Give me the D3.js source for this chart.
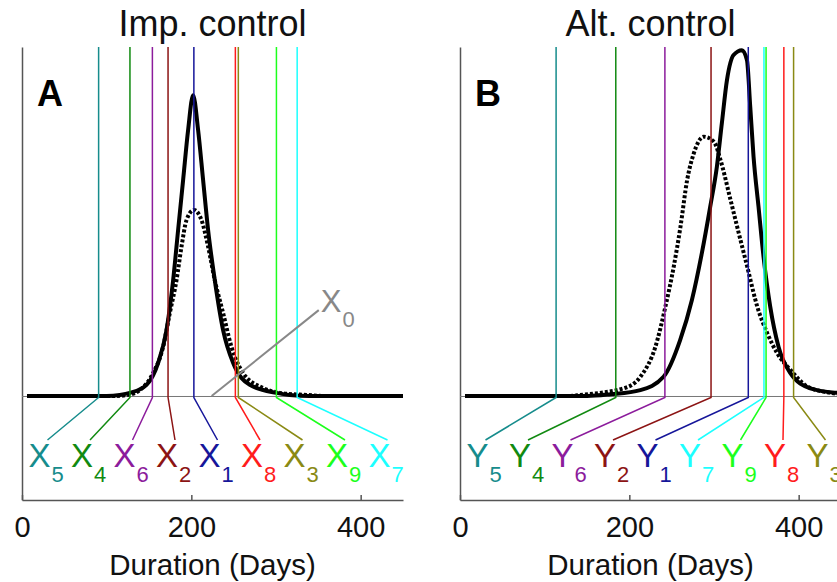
<!DOCTYPE html>
<html>
<head>
<meta charset="utf-8">
<script src="https://cdn.jsdelivr.net/npm/d3@7"></script>
<style>
body { margin: 0; background: #fff; }
svg { font-family: Arial, "Liberation Sans", sans-serif; }
</style>
</head>
<body>
<div id="chart"></div>
<script>
// marker days, left to right, and their subscripts
const impNames = ["5", "4", "6", "2", "1", "8", "3", "9", "7"];
const impDays = [90.5, 127.5, 154, 172.5, 203, 252, 255.5, 300.5, 325];
const altNames = ["5", "4", "6", "2", "1", "7", "9", "8", "3"];
const altDays = [113.5, 184, 242, 296.5, 340.5, 359, 361.5, 382.5, 394];

// X0 pointer (start day, end day, end height)
const impZero = [224, 350.5, 0.246];

// duration densities, [day, height]
const impSolid = [[6, 0], [100, 0], [115.6, 0.003], [127.4, 0.009], [147.1, 0.032], [160.8, 0.095],
  [170.7, 0.189], [178.5, 0.332], [184.4, 0.476], [190.3, 0.619], [196.2, 0.762], [202.1, 0.862],
  [208, 0.762], [213.9, 0.619], [219.8, 0.476], [227.7, 0.332], [237.5, 0.189], [249.3, 0.095],
  [269, 0.032], [300.5, 0.009], [316, 0.003], [340, 0], [450, 0]];
const impDotted = [[6, 0], [110, 0], [127.4, 0.004], [139.2, 0.017], [154.9, 0.066], [166.7, 0.141],
  [174.6, 0.238], [182.5, 0.332], [188.4, 0.428], [194.3, 0.504], [203, 0.533], [212, 0.504],
  [219.8, 0.428], [227.7, 0.332], [237.5, 0.238], [247.4, 0.141], [261.1, 0.066], [284.7, 0.023],
  [304.4, 0.009], [336, 0.003], [360, 0], [450, 0]];
const altSolid = [[6, 0], [150, 0], [177.5, 0.005], [213, 0.017], [240.4, 0.055], [260, 0.16],
  [273.9, 0.275], [285.7, 0.41], [295.5, 0.542], [303.4, 0.657], [309.3, 0.782], [315.3, 0.905],
  [323.1, 0.977], [333, 0.991], [338.9, 0.963], [342.8, 0.829], [346.7, 0.686], [352.6, 0.542],
  [358.5, 0.399], [366.4, 0.256], [376.2, 0.141], [390, 0.066], [413.7, 0.022], [445.2, 0.009], [450, 0.008]];
const altDotted = [[6, 0], [130, 0], [141.8, 0.003], [193.3, 0.022], [213, 0.055], [230.8, 0.141],
  [242.6, 0.256], [252.4, 0.37], [260.4, 0.485], [268.3, 0.619], [276.1, 0.695], [287.9, 0.743],
  [299.8, 0.729], [307.7, 0.676], [319.5, 0.562], [329.3, 0.466], [339.3, 0.37], [351.1, 0.256],
  [362.9, 0.18], [374.8, 0.122], [390.5, 0.074], [410.3, 0.027], [437.9, 0.009], [450, 0.005]];

const tickDays = [0, 200, 400];

const colorOf = {
  "1": "#16169a", "2": "#8c1414", "3": "#8a8a14", "4": "#118a11", "5": "#168c8c",
  "6": "#8c1c9c", "7": "#1cffff", "8": "#ff1c1c", "9": "#1cff1c"
};

const width = 837, height = 582;
const plotTop = 47, plotBottom = 500, plotW = 381;
const font = 'Arial, "Liberation Sans", sans-serif';

const svg = d3.select("#chart").append("svg")
  .attr("width", width)
  .attr("height", height);

// zero sits on a whole pixel so the thick curves stay crisp along it
const y = d3.scaleLinear().domain([-0.298, 1]).range([plotBottom, plotTop]);

function drawPanel(p) {
  const x = d3.scaleLinear().domain([0, 450]).range([p.left, p.left + plotW]);
  const g = svg.append("g");

  g.append("text")
    .attr("x", p.left + plotW / 2).attr("y", 36)
    .attr("text-anchor", "middle").attr("font-size", 36).attr("fill", "#111")
    .text(p.title);

  // axes
  const left = g.append("g").attr("transform", `translate(${p.left},0)`)
    .call(d3.axisLeft(y).tickValues([]).tickSizeOuter(0));
  const bottom = g.append("g").attr("transform", `translate(0,${plotBottom})`)
    .call(d3.axisBottom(x).tickValues(tickDays).tickSize(-5).tickSizeOuter(0).tickPadding(16))
    .attr("font-family", font).attr("font-size", 29);
  [left, bottom].forEach(a => {
    a.selectAll("path, line").attr("stroke", "#555").attr("stroke-width", 1.5);
  });
  bottom.selectAll("text").attr("fill", "#111");

  g.append("text")
    .attr("x", p.left + plotW / 2).attr("y", 575)
    .attr("text-anchor", "middle").attr("font-size", 29.5).attr("fill", "#111")
    .text("Duration (Days)");

  // zero line
  g.append("line")
    .attr("x1", p.left).attr("x2", p.left + plotW)
    .attr("y1", y(0) + 0.5).attr("y2", y(0) + 0.5)
    .attr("stroke", "#777").attr("stroke-width", 1);

  const line = d3.line()
    .x(d => x(d[0]))
    .y(d => y(d[1]))
    .curve(d3.curveMonotoneX);

  g.append("path").datum(p.solid)
    .attr("d", line).attr("fill", "none")
    .attr("stroke", "#000").attr("stroke-width", 4);
  g.append("path").datum(p.dotted)
    .attr("d", line).attr("fill", "none")
    .attr("stroke", "#000").attr("stroke-width", 4)
    .attr("stroke-dasharray", "3,2");

  // marker lines with bent leaders to the labels
  p.days.forEach((d, i) => {
    const name = p.names[i];
    const c = colorOf[name];
    const lx = p.left + 17.5 + 42.5 * i;
    g.append("path")
      .attr("d", `M${x(d)},${plotTop}V${y(0) + 1.5}L${lx + 8},440`)
      .attr("fill", "none").attr("stroke", c).attr("stroke-width", 1.5);
    const t = g.append("text")
      .attr("x", lx - 11).attr("y", 467)
      .attr("font-size", 33).attr("fill", c)
      .text(p.sym);
    t.append("tspan").attr("dx", 1).attr("dy", 15).attr("font-size", 22).text(name);
  });

  if (p.zero) {
    const [d0, d1, h1] = p.zero;
    g.append("line")
      .attr("x1", x(d0)).attr("y1", y(0))
      .attr("x2", x(d1)).attr("y2", y(h1))
      .attr("stroke", "#888").attr("stroke-width", 2);
    const t = g.append("text")
      .attr("x", x(d1) + 2).attr("y", y(h1) + 2)
      .attr("font-size", 31).attr("fill", "#888")
      .text(p.sym);
    t.append("tspan").attr("dx", 1).attr("dy", 15).attr("font-size", 22).text("0");
  }

  g.append("text")
    .attr("x", p.left + 15).attr("y", 106)
    .attr("font-size", 36).attr("font-weight", "bold").attr("fill", "#000")
    .text(p.letter);
}

drawPanel({ left: 22, title: "Imp. control", letter: "A", sym: "X",
  names: impNames, days: impDays, solid: impSolid, dotted: impDotted, zero: impZero });
drawPanel({ left: 460, title: "Alt. control", letter: "B", sym: "Y",
  names: altNames, days: altDays, solid: altSolid, dotted: altDotted });
</script>
</body>
</html>
